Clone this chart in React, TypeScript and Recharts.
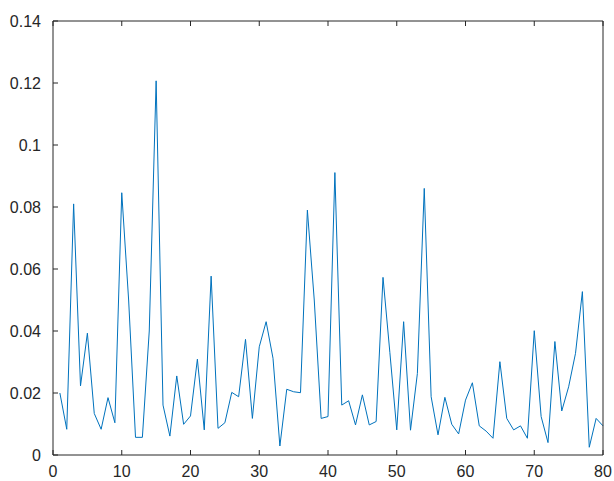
import React from 'react';
import { Line, LineChart, XAxis, YAxis } from 'recharts';

// values, sample index 1..80
const values = [
  0.020, 0.0083, 0.081, 0.0223, 0.0393, 0.0134, 0.0083, 0.0185, 0.0104, 0.0846,
  0.050, 0.0057, 0.0057, 0.040, 0.1207, 0.0161, 0.0061, 0.0255, 0.0099, 0.0126,
  0.0309, 0.0081, 0.0577, 0.0086, 0.0104, 0.0202, 0.0188, 0.0373, 0.0118, 0.0349,
  0.043, 0.0312, 0.0029, 0.0212, 0.0204, 0.0201, 0.079, 0.050, 0.0118, 0.0124,
  0.0911, 0.0161, 0.0175, 0.0097, 0.0194, 0.0097, 0.0108, 0.0573, 0.033, 0.0081,
  0.043, 0.008, 0.0263, 0.086, 0.0188, 0.0065, 0.0186, 0.0099, 0.0068, 0.0177,
  0.0233, 0.0094, 0.0077, 0.0054, 0.0301, 0.0118, 0.0081, 0.0094, 0.0054, 0.0401,
  0.0124, 0.004, 0.0366, 0.0142, 0.022, 0.0328, 0.0527, 0.0025, 0.0118, 0.0094,
];

const xTicks = [0, 10, 20, 30, 40, 50, 60, 70, 80];
const yTicks = [0, 0.02, 0.04, 0.06, 0.08, 0.1, 0.12, 0.14];

const axisColor = '#262626';
const lineColor = '#0072BD';

const fmtY = (v: number) => String(Number(v.toFixed(2)));

const App: React.FC = () => {
  const data = values.map((v, i) => ({ x: i + 1, y: v }));
  const tickStyle = { fill: axisColor, fontSize: 16, fontFamily: 'Liberation Sans, Arial, sans-serif' };

  return (
    <div style={{ position: 'absolute', left: 0, top: 0, width: 614, height: 481, background: '#fff' }}>
      <LineChart width={614} height={481} data={data} margin={{ top: 0, right: 0, bottom: 0, left: 0 }}>
        <XAxis
          xAxisId="bottom"
          dataKey="x"
          type="number"
          domain={[0, 80]}
          ticks={xTicks}
          height={26}
          tickSize={-5}
          tickMargin={16}
          stroke={axisColor}
          tick={tickStyle}
          interval={0}
        />
        <XAxis
          xAxisId="top"
          orientation="top"
          dataKey="x"
          type="number"
          domain={[0, 80]}
          ticks={xTicks}
          height={21}
          tickSize={-5}
          stroke={axisColor}
          tickFormatter={() => ''}
        />
        <YAxis
          yAxisId="left"
          type="number"
          domain={[0, 0.14]}
          ticks={yTicks}
          width={53}
          tickSize={-5}
          tickMargin={17}
          stroke={axisColor}
          tick={tickStyle}
          tickFormatter={fmtY}
          interval={0}
        />
        <YAxis
          yAxisId="right"
          orientation="right"
          type="number"
          domain={[0, 0.14]}
          ticks={yTicks}
          width={11}
          tickSize={-5}
          stroke={axisColor}
          tickFormatter={() => ''}
        />
        <Line
          xAxisId="bottom"
          yAxisId="left"
          type="linear"
          dataKey="y"
          stroke={lineColor}
          strokeWidth={1}
          dot={false}
          isAnimationActive={false}
        />
      </LineChart>
    </div>
  );
};

export default App;
